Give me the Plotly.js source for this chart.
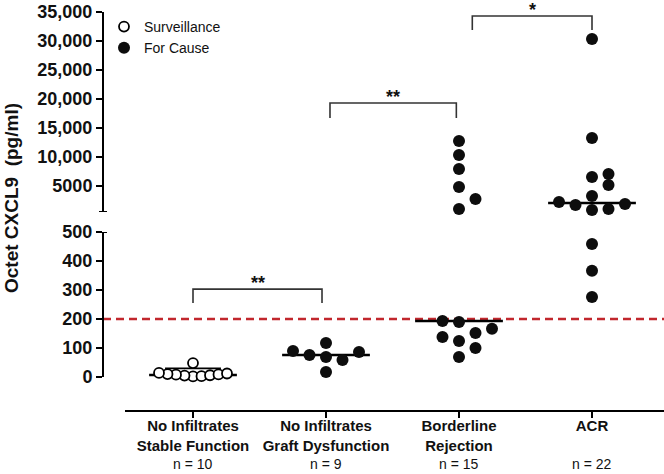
<!DOCTYPE html>
<html>
<head>
<meta charset="utf-8">
<script src="https://cdn.plot.ly/plotly-3.0.1.min.js"></script>
<style>body{margin:0;background:#fff}</style>
</head>
<body>
<div id="chart" style="width:664px;height:474px"></div>
<script>
// ---------------- data ----------------
const catLine1 = ["No Infiltrates", "No Infiltrates", "Borderline", "ACR"];
const catLine2 = ["Stable Function", "Graft Dysfunction", "Rejection", ""];
const nLabels = ["n = 10", "n = 9", "n = 15", "n = 22"];

// pg/ml values
const stableSurveillance = [2, 3, 5, 6, 8, 9, 10, 12, 14, 48];
const graftDysfunction = [17, 59, 69, 76, 86, 90, 117];
const borderline = [69, 100, 124, 138, 152, 166, 190, 193, 1035, 2760, 4830, 7931, 10345, 12760];
const acr = [276, 366, 459, 860, 1035, 1724, 1897, 2240, 3276, 5170, 6550, 7069, 13276, 30340];

const medians = [7, 76, 193, 2070];
const stableUpperLine = 30;

const lowerTicks = [0, 100, 200, 300, 400, 500];
const upperTicks = [5000, 10000, 15000, 20000, 25000, 30000, 35000];
const upperTickText = ["5000", "10,000", "15,000", "20,000", "25,000", "30,000", "35,000"];
const cutoff = 200;
const axisBreak = 500;

const bracketLeft = [1.0, 2.03, 3.1];
const bracketRight = [1.97, 2.98, 4.0];
const bracketTop = [303, 19310, 34310];
const bracketLeg = [255, 16720, 31900];
const bracketLabel = ["**", "**", "*"];

// ---------------- geometry ----------------
const W = 664, H = 474;
const FONT = "Arial, 'Liberation Sans', Helvetica, sans-serif";
const px2p = px => px / W;
const py2p = py => (H - py) / H;
const yAxisPx = 103;
const xAxisPx0 = 125;
const unitPx = 133;
const lowerPx = [377, 232];  // pixel of 0 and 500
const upperPx = [212, 12];   // pixel of 500 and 35000
const lowerRange = [0, 500];
const upperRange = [500, 35000];
const xStart = 1 - (193 - xAxisPx0) / unitPx;
const xRange = [xStart, xStart + (W - xAxisPx0) / unitPx];

function pixelY(v) {
  if (v < axisBreak) return lowerPx[0] - (v - lowerRange[0]) / (lowerRange[1] - lowerRange[0]) * (lowerPx[0] - lowerPx[1]);
  return upperPx[0] - (v - upperRange[0]) / (upperRange[1] - upperRange[0]) * (upperPx[0] - upperPx[1]);
}

// simple beeswarm: offsets in pixels computed from the values
function swarm(values, minDist, step, maxHalf) {
  const order = values.map((v, i) => i).sort((a, b) => values[a] - values[b]);
  const placed = [];
  const off = new Array(values.length).fill(0);
  for (const i of order) {
    const py = pixelY(values[i]);
    for (let k = 0; k < 60; k++) {
      const o = k === 0 ? 0 : (k % 2 ? 1 : -1) * Math.ceil(k / 2) * step;
      if (placed.every(p => Math.hypot(p.x - o, p.y - py) >= minDist)) {
        off[i] = o; placed.push({x: o, y: py}); break;
      }
    }
  }
  const m = Math.max(...off.map(Math.abs));
  const s = m > maxHalf ? maxHalf / m : 1;
  return off.map(o => o * s);
}

function groupPoints(values, gi, minDist) {
  const off = swarm(values, minDist, 16.5, 34);
  const lo = {x: [], y: []}, hi = {x: [], y: []};
  values.forEach((v, i) => {
    const t = v < axisBreak ? lo : hi;
    t.x.push(gi + off[i] / unitPx);
    t.y.push(v);
  });
  return {lo, hi};
}

const g1 = groupPoints(stableSurveillance, 1, 10);
const g2 = groupPoints(graftDysfunction, 2, 12.5);
const g3 = groupPoints(borderline, 3, 12.5);
const g4 = groupPoints(acr, 4, 11);

const traces = [];
const medHalf = 0.33;
medians.forEach((m, i) => {
  traces.push({
    x: [i + 1 - medHalf, i + 1 + medHalf], y: [m, m],
    yaxis: m < axisBreak ? "y" : "y2",
    mode: "lines", line: {color: "#000", width: 2.5},
    showlegend: false, hoverinfo: "skip", cliponaxis: false
  });
});
traces.push({
  x: [1 - 0.21, 1 + 0.21], y: [stableUpperLine, stableUpperLine], yaxis: "y",
  mode: "lines", line: {color: "#000", width: 1.8},
  showlegend: false, hoverinfo: "skip", cliponaxis: false
});

bracketLeft.forEach((l, i) => {
  const r = bracketRight[i];
  traces.push({
    x: [l, l, r, r], y: [bracketLeg[i], bracketTop[i], bracketTop[i], bracketLeg[i]],
    yaxis: bracketTop[i] < axisBreak ? "y" : "y2",
    mode: "lines", line: {color: "#333", width: 1.6},
    showlegend: false, hoverinfo: "skip", cliponaxis: false
  });
});

const filled = {color: "#0d0d0d", size: 12, line: {width: 0}};
traces.push({
  name: "Surveillance", x: g1.lo.x, y: g1.lo.y, yaxis: "y", type: "scatter", mode: "markers",
  marker: {color: "#fff", size: 10, line: {color: "#000", width: 1.8}}, cliponaxis: false,
  legendgroup: "a"
});
traces.push({
  name: "For Cause", x: [].concat(g2.lo.x, g3.lo.x, g4.lo.x), y: [].concat(g2.lo.y, g3.lo.y, g4.lo.y),
  yaxis: "y", type: "scatter", mode: "markers", marker: filled, cliponaxis: false,
  legendgroup: "b"
});
traces.push({
  name: "For Cause", x: [].concat(g3.hi.x, g4.hi.x), y: [].concat(g3.hi.y, g4.hi.y),
  yaxis: "y2", type: "scatter", mode: "markers", marker: filled, cliponaxis: false,
  legendgroup: "b", showlegend: false
});

const tickText = catLine1.map((l1, i) =>
  "<b>" + l1 + "</b><br><b>" + (catLine2[i] || " ") + "</b>");

const annotations = bracketLabel.map((t, i) => ({
  x: (bracketLeft[i] + bracketRight[i]) / 2, y: bracketTop[i],
  xref: "x", yref: bracketTop[i] < axisBreak ? "y" : "y2",
  text: "<b>" + t + "</b>", showarrow: false, yanchor: "bottom", yshift: -6,
  font: {family: FONT, size: 18, color: "#111"}
}));
nLabels.forEach((t, i) => {
  annotations.push({
    x: i + 1, y: py2p(464), xref: "x", yref: "paper", text: t, showarrow: false,
    xanchor: "center", yanchor: "middle", font: {family: FONT, size: 14, color: "#111"}
  });
});
annotations.push({
  x: px2p(11), y: py2p(198), xref: "paper", yref: "paper",
  text: "<b>Octet CXCL9  (pg/ml)</b>", textangle: -90, showarrow: false,
  xanchor: "center", yanchor: "middle",
  font: {family: FONT, size: 19, color: "#111"}
});

const axisCommon = {
  showline: true, linewidth: 2, linecolor: "#000", ticks: "outside", ticklen: 6, tickwidth: 2,
  tickcolor: "#000", showgrid: false, zeroline: false, fixedrange: true
};

const layout = {
  width: W, height: H,
  margin: {l: 0, r: 0, t: 0, b: 0},
  paper_bgcolor: "#fff", plot_bgcolor: "rgba(0,0,0,0)",
  showlegend: true,
  legend: {
    x: px2p(104), y: py2p(11), xanchor: "left", yanchor: "top",
    font: {family: FONT, size: 14, color: "#111"}, bgcolor: "rgba(0,0,0,0)",
    borderwidth: 0, tracegroupgap: 3, traceorder: "normal"
  },
  xaxis: Object.assign({}, axisCommon, {
    domain: [px2p(xAxisPx0), 1], range: xRange, anchor: "free", position: py2p(411),
    tickvals: [1, 2, 3, 4], ticktext: tickText, ticklabelstandoff: -5,
    tickfont: {family: FONT, size: 15, color: "#111"}
  }),
  yaxis: Object.assign({}, axisCommon, {
    domain: [py2p(lowerPx[0]), py2p(lowerPx[1])], range: lowerRange,
    anchor: "free", position: px2p(yAxisPx),
    tickvals: lowerTicks, ticktext: lowerTicks.map(String),
    tickfont: {family: FONT, size: 18, color: "#111", weight: 700}
  }),
  yaxis2: Object.assign({}, axisCommon, {
    domain: [py2p(upperPx[0]), py2p(upperPx[1])], range: upperRange,
    anchor: "free", position: px2p(yAxisPx),
    tickvals: upperTicks, ticktext: upperTickText,
    tickfont: {family: FONT, size: 18, color: "#111", weight: 700}
  }),
  shapes: [
    {type: "line", xref: "paper", yref: "y", x0: px2p(yAxisPx), x1: 1, y0: cutoff, y1: cutoff,
     line: {color: "#c1272d", width: 2.5, dash: "8px,5px"}, layer: "below"},
    {type: "line", xref: "paper", yref: "y2", x0: px2p(99), x1: px2p(107), y0: axisBreak, y1: axisBreak,
     line: {color: "#000", width: 2}},
    {type: "line", xref: "paper", yref: "y", x0: px2p(yAxisPx), x1: px2p(107), y0: axisBreak, y1: axisBreak,
     line: {color: "#000", width: 2}}
  ],
  annotations: annotations
};

Plotly.newPlot("chart", traces, layout, {displayModeBar: false, staticPlot: true});
</script>
</body>
</html>
